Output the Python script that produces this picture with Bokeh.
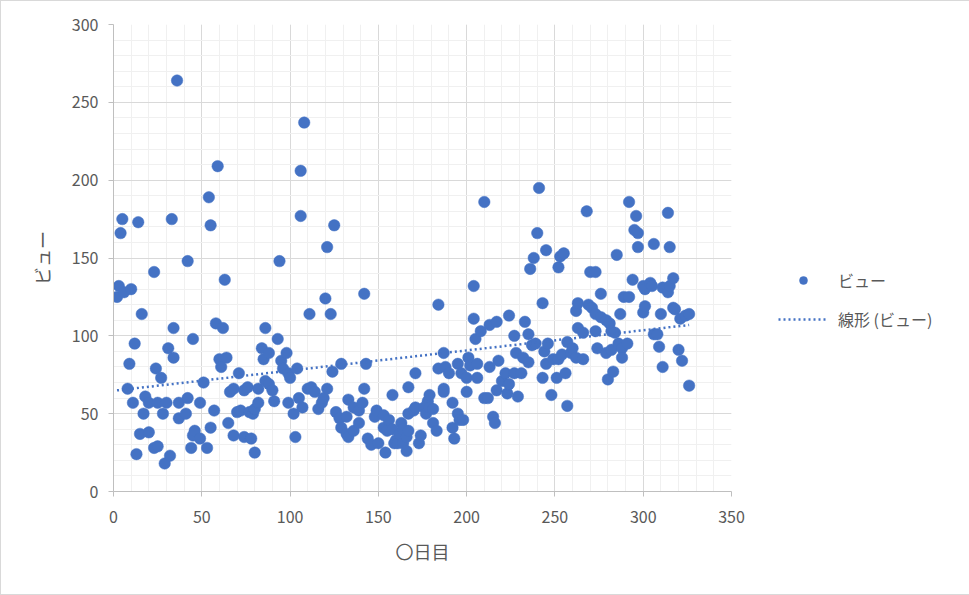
import numpy as np
from bokeh.plotting import figure
from bokeh.models import Range1d, SingleIntervalTicker, Legend, LegendItem, ColumnDataSource
from bokeh.embed import file_html
from bokeh.resources import INLINE

days = [2, 3, 4, 5, 6, 8, 9, 10, 11, 12, 13, 14, 15, 16, 17, 18, 20, 20, 23, 23,
        24, 25, 25, 27, 28, 29, 30, 31, 32, 33, 34, 34, 36, 37, 37, 41, 42, 42, 44, 45,
        45, 46, 49, 49, 51, 53,
        54, 55, 55, 57, 58, 59, 60, 61, 62, 63, 64, 65, 66, 68, 68, 70, 71, 72, 74, 74,
        76, 77, 78, 79, 80, 80, 82, 82, 84, 85, 86, 86, 88, 88, 90, 91, 93, 94, 95, 96,
        98, 99, 99, 100, 102, 103, 104, 105, 106, 106, 107, 108,
        110, 112, 114, 111, 116, 118, 119, 120, 121, 121, 123, 124, 125, 126, 128, 129, 129, 132,
        132, 133, 133, 136, 136, 139, 139, 141, 142, 142, 143, 144, 146, 148, 149, 150, 153, 153,
        154, 155, 156, 158, 158, 159, 160,
        161, 162, 163, 164, 164, 166, 166, 167, 167, 167, 170, 171, 171, 173, 174, 176, 177, 178,
        179, 179, 181, 181, 183, 184, 184, 187, 187, 187, 188, 190, 192, 192, 193, 195, 195, 196,
        197, 198, 200, 200, 201, 202, 204, 204, 205, 206, 206, 208, 210, 210, 212, 213, 213, 215,
        216, 217, 217, 218,
        220, 222, 223, 224, 224, 227, 227, 228, 229, 231, 232, 233, 235, 235, 236, 237, 238, 239,
        240, 241, 243, 243, 244, 245, 245, 246, 248, 249, 251, 252, 252, 253, 254, 255, 256, 257,
        257, 259, 260, 262, 262, 263, 263, 266, 266, 268, 269, 270, 271, 273, 273, 274, 276,
        273, 276, 279, 281, 279, 280, 282, 282, 283, 284, 285, 286, 287, 288, 288, 289, 291, 292,
        292, 294, 295, 296, 297, 297, 300, 300, 301, 301, 304, 305, 306, 306, 308, 309, 310, 311,
        311, 314, 314, 315, 315, 317, 317, 318, 320, 321, 322, 324, 326, 326]

views = [125, 132, 166, 175, 128, 66, 82, 130, 57, 95, 24, 173, 37, 114, 50, 61, 57, 38, 141, 28,
         79, 57, 29, 73, 50, 18, 57, 92, 23, 175, 105, 86, 264, 57, 47, 50, 148, 60, 28, 98,
         36, 39, 57, 34, 70, 28,
         189, 171, 41, 52, 108, 209, 85, 80, 105, 136, 86, 44, 64, 66, 36, 51, 76, 52, 65, 35,
         67, 51, 34, 50, 53, 25, 66, 57, 92, 85, 105, 71, 89, 69, 65, 58, 98, 148, 84, 79,
         89, 76, 57, 73, 50, 35, 79, 60, 206, 177, 54, 237,
         66, 67, 64, 114, 53, 57, 60, 124, 157, 66, 114, 77, 171, 51, 47, 82, 41, 48,
         37, 59, 35, 54, 39, 52, 44, 57, 127, 66, 82, 34, 30, 48, 52, 31, 49, 41,
         25, 39, 46, 62, 40, 31, 33,
         31, 37, 44, 40, 31, 35, 26, 67, 50, 39, 52, 54, 76, 31, 36, 54, 50, 58,
         62, 54, 53, 44, 39, 120, 79, 89, 66, 64, 80, 76, 57, 41, 34, 82, 50, 46,
         76, 46, 73, 64, 86, 81, 132, 111, 98, 73, 82, 103, 186, 60, 60, 107, 80, 48,
         44, 109, 65, 84,
         71, 76, 63, 113, 69, 100, 76, 89, 61, 76, 86, 109, 101, 83, 143, 94, 150, 95,
         166, 195, 121, 73, 90, 155, 82, 95, 62, 85, 73, 144, 85, 151, 88, 153, 76, 96,
         55, 89, 92, 86, 116, 121, 105, 102, 85, 180, 120, 141, 118, 114, 103, 92, 127,
         141, 112, 89, 108, 110, 72, 103, 91, 77, 102, 152, 95, 114, 92, 86, 125, 95, 125,
         186, 136, 168, 177, 166, 157, 132, 115, 130, 119, 134, 132, 159, 101, 101, 93, 114, 131,
         80, 179, 128, 157, 132, 137, 118, 117, 91, 111, 84, 113, 114, 68]

x_ticks_interval = 50
y_ticks_interval = 50

FONT = "Noto Sans CJK JP"
BLUE = "#4472C4"
GREY = "#595959"

xs = np.array(days, dtype=float)
ys = np.array(views, dtype=float)
slope, intercept = np.polyfit(xs, ys, 1)
trend_x = [xs.min(), xs.max()]
trend_y = [slope * v + intercept for v in trend_x]

p = figure(width=967, height=593, output_backend="svg", toolbar_location=None,
           x_range=Range1d(0, 350), y_range=Range1d(0, 300),
           min_border_left=112, min_border_right=237, min_border_top=23, min_border_bottom=103,
           frame_width=618, frame_height=467)
p.outline_line_color = None
p.background_fill_color = "white"
p.border_fill_color = "white"
p.styles = {"border": "1px solid #d9d9d9"}

p.xaxis.ticker = SingleIntervalTicker(interval=x_ticks_interval, num_minor_ticks=5)
p.yaxis.ticker = SingleIntervalTicker(interval=y_ticks_interval, num_minor_ticks=5)
p.xgrid.ticker = p.xaxis.ticker
p.ygrid.ticker = p.yaxis.ticker
for g in (p.xgrid, p.ygrid):
    g.grid_line_color = "#d9d9d9"
    g.grid_line_width = 1
    g.minor_grid_line_color = "#f0f0f0"
    g.minor_grid_line_width = 1

for ax in (p.xaxis, p.yaxis):
    ax.axis_line_color = "#bfbfbf"
    ax.major_tick_line_color = "#bfbfbf"
    ax.major_tick_in = 0
    ax.major_tick_out = 5
    ax.minor_tick_line_color = None
    ax.major_label_text_font = FONT
    ax.major_label_text_font_size = "16px"
    ax.major_label_text_color = GREY
    ax.axis_label_text_font = FONT
    ax.axis_label_text_font_size = "18px"
    ax.axis_label_text_color = GREY
    ax.axis_label_text_font_style = "normal"

p.xaxis.axis_label = "〇日目"
p.yaxis.axis_label = "ビュー"
p.xaxis.major_label_standoff = 14
p.yaxis.major_label_standoff = 10
p.xaxis.axis_label_standoff = 12
p.yaxis.axis_label_standoff = 14

src = ColumnDataSource(dict(x=days, y=views))
pts = p.scatter("x", "y", source=src, size=11.5, marker="circle",
                fill_color=BLUE, line_color=BLUE, line_width=0.5)
tl = p.line(trend_x, trend_y, line_color=BLUE, line_width=2.5, line_dash="2 3")

legend = Legend(items=[LegendItem(label="ビュー", renderers=[pts]),
                       LegendItem(label="線形 (ビュー)", renderers=[tl])],
                location=(47, 160))
legend.glyph_width = 50
legend.glyph_height = 20
legend.label_height = 20
legend.spacing = 15
legend.label_standoff = 10
legend.padding = 0
legend.margin = 0
legend.border_line_color = None
legend.background_fill_alpha = 0
legend.label_text_font = FONT
legend.label_text_font_size = "16px"
legend.label_text_color = GREY
p.add_layout(legend, "right")

open("out.html", "w").write(file_html(p, INLINE))
